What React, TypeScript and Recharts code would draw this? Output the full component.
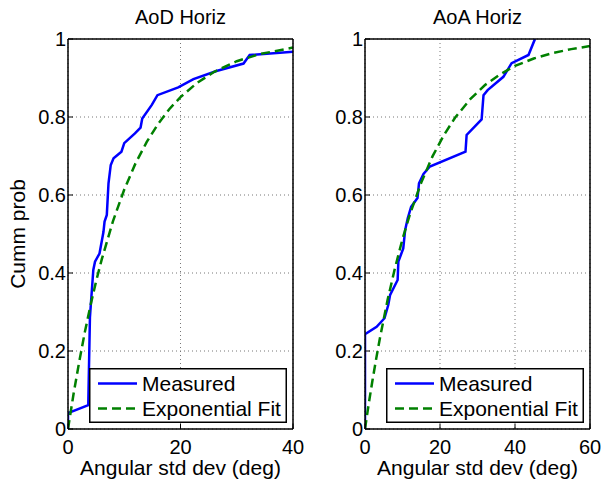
import React from "react";
import {
  LineChart, Line, XAxis, YAxis, CartesianGrid, Legend,
} from "recharts";

const FONT = '"Liberation Sans", Arial, Helvetica, sans-serif';
const BLUE = "#0000ff";
const GREEN = "#008000";

// AoD: measured CDF of horizontal angular spread (x in deg, y = cumulative prob)
const aodMeasuredX = [0, 0, 3.6, 3.9, 4.5, 4.8, 5.6, 6.3, 6.5, 6.9, 7.2, 7.6, 8.1, 9.5, 10.0, 11.9, 12.9, 13.2, 14.9, 15.9, 19.6, 22.3, 26.4, 31.2, 32.3, 40];
const aodMeasuredY = [0, 0.041, 0.061, 0.287, 0.408, 0.429, 0.45, 0.505, 0.532, 0.549, 0.63, 0.677, 0.694, 0.711, 0.733, 0.758, 0.773, 0.796, 0.831, 0.856, 0.876, 0.897, 0.918, 0.937, 0.959, 0.967];

// AoD: exponential fit
const aodFitX = [0, 1, 2, 3, 4, 5, 6, 8, 10, 12, 14, 16, 18, 20, 23, 26, 30, 34, 40];
const aodFitY = [0, 0.091, 0.173, 0.249, 0.317, 0.379, 0.435, 0.533, 0.614, 0.681, 0.736, 0.782, 0.82, 0.851, 0.888, 0.916, 0.943, 0.961, 0.978];

// AoA: measured CDF
const aoaMeasuredX = [0, 0, 3.1, 5.2, 6.2, 6.7, 8.7, 8.9, 10.2, 10.7, 11.4, 12.3, 14.0, 14.4, 15.6, 17.3, 26.8, 27.1, 31.1, 31.6, 32.7, 36.9, 39.1, 43.6, 45.2, 45.4];
const aoaMeasuredY = [0, 0.243, 0.262, 0.284, 0.318, 0.344, 0.382, 0.429, 0.463, 0.51, 0.54, 0.57, 0.592, 0.63, 0.654, 0.673, 0.711, 0.754, 0.794, 0.856, 0.869, 0.903, 0.938, 0.959, 0.997, 1.0];

// AoA: exponential fit
const aoaFitX = [0, 1, 2, 3, 4, 6, 8, 10, 12, 15, 18, 21, 24, 28, 32, 36, 40, 45, 50, 55, 60];
const aoaFitY = [0, 0.065, 0.125, 0.181, 0.234, 0.33, 0.413, 0.487, 0.551, 0.632, 0.699, 0.753, 0.798, 0.845, 0.882, 0.909, 0.931, 0.95, 0.964, 0.974, 0.982];

const yTicks = [0, 0.2, 0.4, 0.6, 0.8, 1];
const aodXTicks = [0, 20, 40];
const aoaXTicks = [0, 20, 40, 60];

const zip = (xs: number[], ys: number[]) => xs.map((x, i) => ({ x, y: ys[i] }));

const FS = 20;
const tickStyle = { fontSize: FS, fill: "#000", fontFamily: FONT };
const axisLine = { stroke: "#000", strokeWidth: 1.5 };
const tickLine = { stroke: "#000", strokeWidth: 1 };

function LegendBox() {
  return (
    <svg width={198} height={55} style={{ display: "block", fontFamily: FONT }}>
      <rect x={0.75} y={0.75} width={196.5} height={53.5} fill="#fff" stroke="#000" strokeWidth={1.5} />
      <line x1={9} x2={48} y1={15.5} y2={15.5} stroke={BLUE} strokeWidth={2.5} />
      <text x={53} y={22.5} fontSize={21} fill="#000">Measured</text>
      <line x1={9} x2={48} y1={40.5} y2={40.5} stroke={GREEN} strokeWidth={2.5} strokeDasharray="9 5" />
      <text x={53} y={47.5} fontSize={21} fill="#000">Exponential Fit</text>
    </svg>
  );
}

interface PanelProps {
  title: string;
  xMax: number;
  xTicks: number[];
  measured: { x: number; y: number }[];
  fit: { x: number; y: number }[];
  width: number;
  yAxisWidth: number;
  rightMargin: number;
  legendLeft: number;
  showYLabel?: boolean;
}

function Panel({ title, xMax, xTicks, measured, fit, width, yAxisWidth, rightMargin, legendLeft, showYLabel }: PanelProps) {
  return (
    <LineChart width={width} height={485} margin={{ top: 38, right: rightMargin, bottom: 0, left: 0 }}>
      <CartesianGrid stroke="#777" strokeDasharray="1 3" />
      <XAxis
        dataKey="x" type="number" domain={[0, xMax]} ticks={xTicks} interval={0}
        allowDataOverflow height={56} tickSize={-5} tickMargin={16}
        tick={tickStyle} axisLine={axisLine} tickLine={tickLine}
        label={{ value: "Angular std dev (deg)", position: "insideBottom", offset: 10, fontSize: 21, fill: "#000", fontFamily: FONT }}
      />
      <XAxis
        xAxisId="top" orientation="top" dataKey="x" type="number" domain={[0, xMax]}
        ticks={xTicks} interval={0} height={1} tickSize={-5} tick={false}
        axisLine={axisLine} tickLine={tickLine}
        label={{ value: title, position: "top", offset: 14, fontSize: 20, fill: "#000", fontFamily: FONT }}
      />
      <YAxis
        type="number" domain={[0, 1]} ticks={yTicks} interval={0} allowDataOverflow
        width={yAxisWidth} tickSize={-5} tickMargin={7}
        tick={tickStyle} axisLine={axisLine} tickLine={tickLine}
        label={showYLabel ? {
          content: (p: any) => {
            const vb = p.viewBox;
            const cx = vb.x + 25;
            const cy = vb.y + vb.height / 2;
            return (
              <text x={cx} y={cy} transform={`rotate(-90 ${cx} ${cy})`} textAnchor="middle"
                fontSize={21} fill="#000" fontFamily={FONT}>Cumm prob</text>
            );
          },
        } : undefined}
      />
      <YAxis
        yAxisId="right" orientation="right" type="number" domain={[0, 1]} ticks={yTicks}
        interval={0} width={1} tickSize={-5} tick={false}
        axisLine={axisLine} tickLine={tickLine}
      />
      <Line data={measured} dataKey="y" type="linear" stroke={BLUE} strokeWidth={2.5}
        dot={false} isAnimationActive={false} />
      <Line data={fit} dataKey="y" type="linear" stroke={GREEN} strokeWidth={2.5}
        strokeDasharray="9 5" dot={false} isAnimationActive={false} />
      <Legend
        layout="vertical" align="center" verticalAlign="middle"
        wrapperStyle={{ left: legendLeft, top: 368, width: 198, height: 55 }}
        content={() => <LegendBox />}
      />
    </LineChart>
  );
}

export default function App() {
  return (
    <div style={{ position: "absolute", left: 0, top: 0, width: 602, height: 485, background: "#fff" }}>
      <div style={{ position: "absolute", left: 0, top: 0 }}>
        <Panel
          title="AoD Horiz" xMax={40} xTicks={aodXTicks}
          measured={zip(aodMeasuredX, aodMeasuredY)} fit={zip(aodFitX, aodFitY)}
          width={335} yAxisWidth={68} rightMargin={41} legendLeft={89} showYLabel
        />
      </div>
      <div style={{ position: "absolute", left: 300, top: 0 }}>
        <Panel
          title="AoA Horiz" xMax={60} xTicks={aoaXTicks}
          measured={zip(aoaMeasuredX, aoaMeasuredY)} fit={zip(aoaFitX, aoaFitY)}
          width={302} yAxisWidth={65} rightMargin={11} legendLeft={86}
        />
      </div>
    </div>
  );
}
